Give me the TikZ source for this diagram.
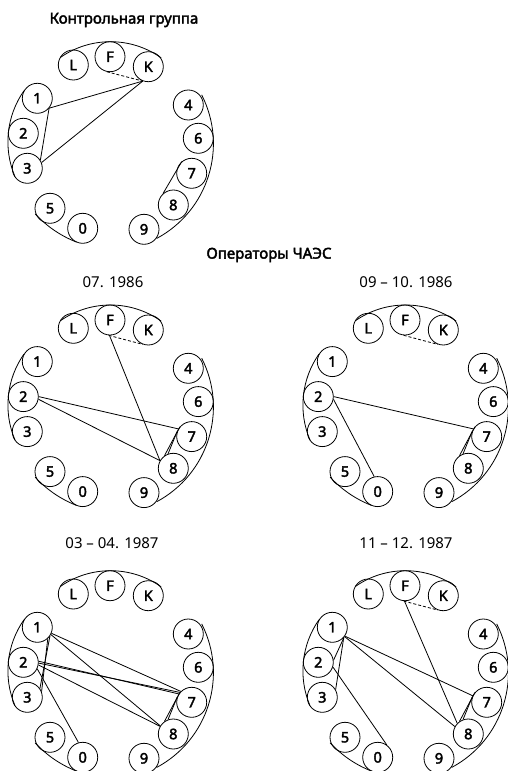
\documentclass[tikz,border=0pt]{standalone}
\usepackage{fontspec}
\setmainfont{Noto Sans}
\newfontfamily\medfont[FakeBold=2.5]{Noto Sans}
\begin{document}
\begin{tikzpicture}[x=1pt,y=-1pt,
  dnode/.style={circle,draw,line width=0.8pt,minimum size=30pt,inner sep=0pt,font=\medfont\fontsize{14.5}{14.5}\selectfont},
  link/.style={line width=0.8pt},
  dlink/.style={line width=0.8pt,dashed,dash pattern=on 3pt off 2pt},
  encl/.style={line width=0.8pt},
  ttl/.style={font=\medfont\fontsize{15}{15}\selectfont},
  sub/.style={font=\fontsize{15}{15}\selectfont}]
\useasboundingbox (0,0) rectangle (508,771);
\newcommand\dialbase[3]{%
 \begin{scope}[shift={(#2,#3)}]
  \node[dnode] (#1L) at (73.3,65) {L};
  \node[dnode] (#1F) at (110,56.7) {F};
  \node[dnode] (#1K) at (148.3,66.7) {K};
  \node[dnode] (#11) at (37.3,98.3) {1};
  \node[dnode] (#12) at (23.3,133.3) {2};
  \node[dnode] (#13) at (27.3,168.3) {3};
  \node[dnode] (#14) at (188.3,105) {4};
  \node[dnode] (#16) at (198.3,138.3) {6};
  \node[dnode] (#17) at (191.7,173.3) {7};
  \node[dnode] (#18) at (173.3,205) {8};
  \node[dnode] (#19) at (144,229.3) {9};
  \node[dnode] (#15) at (50,208.3) {5};
  \node[dnode] (#10) at (82.7,228.3) {0};
  \draw[encl] ([shift={(-125:87.6)}]110.5,129.3) arc[start angle=-125,end angle=-54.7,radius=87.6];
  \draw[encl] ([shift={(-145:89.1)}]97,141.8) arc[start angle=-145,end angle=-203,radius=89.1];
  \draw[encl] ([shift={(-27:107.5)}]105.9,143.7) arc[start angle=-27,end angle=61.8,radius=107.5];
  \draw[encl] ([shift={(-222.7:111.8)}]117.3,138) arc[start angle=-222.7,end angle=-248.6,radius=111.8];
 \end{scope}}
% titles
\node[ttl] (t0) at (124,20) {Контрольная группа};
\node[ttl] (t1) at (269,255) {Операторы ЧАЭС};
\node[sub] (s1) at (113,282) {07. 1986};
\node[sub] (s2) at (406,282) {09 – 10. 1986};
\node[sub] (s3) at (112,543) {03 – 04. 1987};
\node[sub] (s4) at (406,543) {11 – 12. 1987};
% control
\dialbase{a}{0}{0}
\draw[dlink] (aF.258) -- (aK.249);
\draw[link] (aK.249) -- (a1.-40);
\draw[link] (aK.249) -- (a3.22);
\draw[link] (a1.-40) -- (a3.32);
\draw[link] (a7.130) -- (a8.132);
% 07.1986
\dialbase{b}{0}{263.3}
\draw[dlink] (bF.265) -- (bK.249);
\draw[link] (bF.268) -- (b8.150);
\draw[link] (b2.0) -- (b7.150);
\draw[link] (b2.-10) -- (b8.150);
\draw[link] (b7.140) -- (b8.125);
\draw[link] (b7.160) -- (b8.110);
% 09-10.1986
\dialbase{c}{295}{263.3}
\draw[dlink] (cF.265) -- (cK.249);
\draw[link] (c2.0) -- (c7.150);
\draw[link] (c2.-10) -- (c0.103);
\draw[link] (c7.140) -- (c8.125);
\draw[link] (c7.160) -- (c8.110);
% 03-04.1987
\dialbase{d}{0}{529}
\draw[link] (d1.-23) -- (d7.135);
\draw[link] (d1.-28) -- (d8.148);
\draw[link] (d1.-35) -- (d3.35);
\draw[link] (d1.-47) -- (d3.22);
\draw[link] (d2.4) -- (d7.147);
\draw[link] (d2.-3) -- (d7.140);
\draw[link] (d2.-10) -- (d8.150);
\draw[link] (d2.-25) -- (d0.106);
\draw[link] (d7.140) -- (d8.125);
\draw[link] (d7.160) -- (d8.110);
% 11-12.1987
\dialbase{e}{295}{529}
\draw[dlink] (eF.265) -- (eK.249);
\draw[link] (eF.268) -- (e8.136);
\draw[link] (e1.-35) -- (e7.155);
\draw[link] (e1.-37) -- (e8.151);
\draw[link] (e1.-40) -- (e2.8);
\draw[link] (e1.-42) -- (e3.30);
\draw[link] (e2.-18) -- (e0.54);
\draw[link] (e7.140) -- (e8.125);
\draw[link] (e7.160) -- (e8.110);
\end{tikzpicture}
\end{document}
